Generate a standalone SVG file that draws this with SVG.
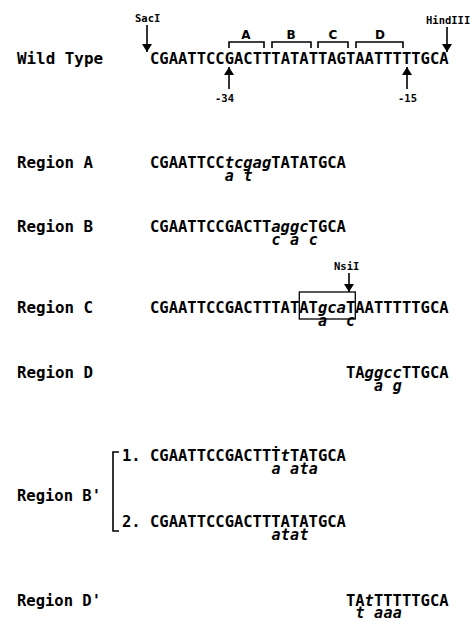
<svg xmlns="http://www.w3.org/2000/svg" width="475" height="625" viewBox="0 0 475 625">
<style>
.lbl{font-family:"DejaVu Sans Mono","Liberation Mono",monospace;font-weight:bold;font-size:16px;fill:#000}
.seq{font-family:"DejaVu Sans Mono","Liberation Mono",monospace;font-weight:bold;font-size:16.5px;fill:#000}
.it{font-style:italic}
.ann{font-family:"DejaVu Sans Mono","Liberation Mono",monospace;font-weight:bold;font-style:italic;font-size:15px;fill:#000;text-anchor:middle}
.sm{font-family:"DejaVu Sans Mono","Liberation Mono",monospace;font-weight:bold;font-size:10.5px;fill:#000}
.reg{font-family:"DejaVu Sans","Liberation Sans",sans-serif;font-weight:bold;font-size:12px;fill:#000;text-anchor:middle}
.ln{stroke:#000;stroke-width:1.6;fill:none}
</style>
<defs>
<marker id="ah" viewBox="0 0 8 12" refX="8" refY="6" markerWidth="8" markerHeight="12" markerUnits="userSpaceOnUse" orient="auto"><path d="M0,1 L8,6 L0,11 Z" fill="#000"/></marker>
</defs>
<g id="labels">
<text class="lbl" x="17" y="64" textLength="86" lengthAdjust="spacingAndGlyphs">Wild Type</text>
<text class="lbl" x="17" y="168" textLength="76" lengthAdjust="spacingAndGlyphs">Region A</text>
<text class="lbl" x="17" y="232" textLength="76" lengthAdjust="spacingAndGlyphs">Region B</text>
<text class="lbl" x="17" y="313" textLength="76" lengthAdjust="spacingAndGlyphs">Region C</text>
<text class="lbl" x="17" y="378" textLength="76" lengthAdjust="spacingAndGlyphs">Region D</text>
<text class="lbl" x="17" y="501" textLength="84" lengthAdjust="spacingAndGlyphs">Region B'</text>
<text class="lbl" x="17" y="606" textLength="84" lengthAdjust="spacingAndGlyphs">Region D'</text>
</g>
<g id="wild-type">
<text class="seq" x="150" y="64" textLength="298.6" lengthAdjust="spacingAndGlyphs">CGAATTCCGACTTTATATTAGTAATTTTTGCA</text>
<text class="sm" x="135" y="22">SacI</text>
<text class="sm" x="426" y="24">HindIII</text>
<text class="reg" x="246" y="39">A</text>
<text class="reg" x="291" y="39">B</text>
<text class="reg" x="333" y="39">C</text>
<text class="reg" x="380" y="39">D</text>
<path class="ln" d="M229,48 V42 H264 V48 M272,48 V42 H311 V48 M318,48 V42 H348 V48 M356,48 V42 H403 V48"/>
<text class="sm" x="215" y="102">-34</text>
<text class="sm" x="398" y="102">-15</text>
</g>
<g id="region-a">
<text class="seq" x="150" y="168" textLength="74.64" lengthAdjust="spacingAndGlyphs">CGAATTCC</text>
<text class="seq it" x="224.64" y="168" textLength="46.65" lengthAdjust="spacingAndGlyphs">tcgag</text>
<text class="seq" x="271.29" y="168" textLength="74.64" lengthAdjust="spacingAndGlyphs">TATATGCA</text>
<text class="ann" x="229.3" y="181">a</text>
<text class="ann" x="248" y="181">t</text>
</g>
<g id="region-b">
<text class="seq" x="150" y="232" textLength="121.29" lengthAdjust="spacingAndGlyphs">CGAATTCCGACTT</text>
<text class="seq it" x="271.29" y="232" textLength="37.32" lengthAdjust="spacingAndGlyphs">aggc</text>
<text class="seq" x="308.61" y="232" textLength="37.32" lengthAdjust="spacingAndGlyphs">TGCA</text>
<text class="ann" x="276" y="245">c</text>
<text class="ann" x="294.6" y="245">a</text>
<text class="ann" x="313.3" y="245">c</text>
</g>
<g id="region-c">
<text class="sm" x="334" y="270">NsiI</text>
<text class="seq" x="150" y="313" textLength="167.94" lengthAdjust="spacingAndGlyphs">CGAATTCCGACTTTATAT</text>
<text class="seq it" x="317.94" y="313" textLength="27.99" lengthAdjust="spacingAndGlyphs">gca</text>
<text class="seq" x="345.93" y="313" textLength="102.63" lengthAdjust="spacingAndGlyphs">TAATTTTTGCA</text>
<rect x="299.3" y="292" width="56" height="27" fill="none" stroke="#000" stroke-width="1.3"/>
<text class="ann" x="322.6" y="326">a</text>
<text class="ann" x="350.6" y="326">c</text>
</g>
<g id="region-d">
<text class="seq" x="345.93" y="378" textLength="18.66" lengthAdjust="spacingAndGlyphs">TA</text>
<text class="seq it" x="364.59" y="378" textLength="37.32" lengthAdjust="spacingAndGlyphs">ggcc</text>
<text class="seq" x="401.91" y="378" textLength="46.65" lengthAdjust="spacingAndGlyphs">TTGCA</text>
<text class="ann" x="378.6" y="391">a</text>
<text class="ann" x="397.3" y="391">g</text>
</g>
<g id="region-b-prime">
<path class="ln" d="M119,452 H113 V531 H119"/>
<text class="seq" x="122" y="461" textLength="18.66" lengthAdjust="spacingAndGlyphs">1.</text>
<text class="seq" x="150" y="461" textLength="130.62" lengthAdjust="spacingAndGlyphs">CGAATTCCGACTTṪ</text>
<text class="seq it" x="280.62" y="461" textLength="9.33" lengthAdjust="spacingAndGlyphs">t</text>
<text class="seq" x="289.95" y="461" textLength="55.98" lengthAdjust="spacingAndGlyphs">TATGCA</text>
<text class="ann" x="275.9" y="474">a</text>
<text class="ann" x="294.6" y="474">a</text>
<text class="ann" x="303.9" y="474">t</text>
<text class="ann" x="313.3" y="474">a</text>
<text class="seq" x="122" y="527" textLength="18.66" lengthAdjust="spacingAndGlyphs">2.</text>
<text class="seq" x="150" y="527" textLength="195.93" lengthAdjust="spacingAndGlyphs">CGAATTCCGACTTTATATGCA</text>
<text class="ann" x="275.9" y="540">a</text>
<text class="ann" x="285.3" y="540">t</text>
<text class="ann" x="294.6" y="540">a</text>
<text class="ann" x="303.9" y="540">t</text>
</g>
<g id="region-d-prime">
<text class="seq" x="345.93" y="606" textLength="18.66" lengthAdjust="spacingAndGlyphs">TA</text>
<text class="seq it" x="364.59" y="606" textLength="9.33" lengthAdjust="spacingAndGlyphs">t</text>
<text class="seq" x="373.92" y="606" textLength="74.64" lengthAdjust="spacingAndGlyphs">TTTTTGCA</text>
<text class="ann" x="359.9" y="618">t</text>
<text class="ann" x="378.6" y="618">a</text>
<text class="ann" x="387.9" y="618">a</text>
<text class="ann" x="397.3" y="618">a</text>
</g>
<g id="connectors">
<path class="ln" d="M147,25 V52" marker-end="url(#ah)"/>
<path class="ln" d="M447,27 V52" marker-end="url(#ah)"/>
<path class="ln" d="M229,89 V67" marker-end="url(#ah)"/>
<path class="ln" d="M407,89 V67" marker-end="url(#ah)"/>
<path class="ln" d="M349,273 V292" marker-end="url(#ah)"/>
</g>
</svg>
